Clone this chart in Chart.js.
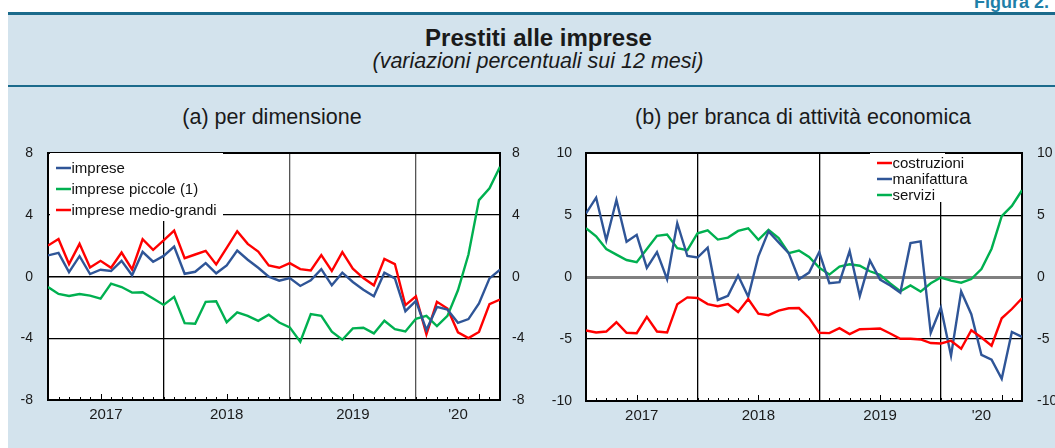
<!DOCTYPE html>
<html>
<head>
<meta charset="utf-8">
<script src="https://cdn.jsdelivr.net/npm/chart.js@4.4.0/dist/chart.umd.min.js"></script>
<style>
  html, body { margin: 0; padding: 0; background: #fff; }
  body { width: 1055px; height: 448px; position: relative; overflow: hidden;
         font-family: "Liberation Sans", Arial, sans-serif; color: #1a1a1a; }
  #fig { position: absolute; left: 974px; top: -7px; line-height: 18px; font-size: 18px;
         font-weight: bold; color: #1f7fa8; white-space: nowrap; }
  #panel { position: absolute; left: 8px; top: 12px; width: 1047px; height: 436px;
           background: #d3e3ed; border-top: 3px solid #1b6b8c; }
  #rule { position: absolute; left: 8px; top: 85px; width: 1047px; height: 2px; background: #1b6b8c; }
  .t { position: absolute; text-align: center; white-space: nowrap; }
  #title { left: 0; width: 1077px; top: 25px; font-size: 24px; line-height: 26px; font-weight: bold; }
  #sub { left: 0; width: 1076px; top: 49px; font-size: 21.5px; line-height: 24px; font-style: italic; }
  #ta { left: 72px; width: 400px; top: 105px; font-size: 21.5px; line-height: 24px; }
  #tb { left: 603px; width: 400px; top: 105px; font-size: 21.5px; line-height: 24px; }
  canvas { position: absolute; }
  #c1 { left: 0; top: 130px; }
  #c2 { left: 530px; top: 130px; }
</style>
</head>
<body>
<div id="fig">Figura 2.</div>
<div id="panel"></div>
<div id="rule"></div>
<div class="t" id="title">Prestiti alle imprese</div>
<div class="t" id="sub">(variazioni percentuali sui 12 mesi)</div>
<div class="t" id="ta">(a) per dimensione</div>
<div class="t" id="tb">(b) per branca di attività economica</div>
<canvas id="c1" width="530" height="318"></canvas>
<canvas id="c2" width="525" height="318"></canvas>
<script>
// monthly observations, gen 2017 - ago 2020
const monthNames = ['gen','feb','mar','apr','mag','giu','lug','ago','set','ott','nov','dic'];
const months = [];
for (let y = 2017; y <= 2020; y++) {
  for (let m = 0; m < 12; m++) {
    if (y === 2020 && m > 7) break;
    months.push(monthNames[m] + ' ' + y);
  }
}

const yearLines = [11, 23, 35];
const yearLabels = ['2017', '2018', '2019', "'20"];
const yearLabelPos = [5.5, 17, 29, 39];

// (a) per dimensione
const imprese = [1.38,1.55,0.30,1.33,0.17,0.45,0.37,1.03,0.09,1.61,0.97,1.35,
  1.96,0.19,0.32,0.88,0.22,0.73,1.70,1.10,0.58,0.00,-0.26,-0.09,
  -0.60,-0.24,0.49,-0.56,0.26,-0.34,-0.84,-1.27,0.26,-0.11,-2.24,-1.57,
  -3.46,-1.96,-2.13,-2.99,-2.75,-1.74,-0.11,0.45];
const impresePiccole = [-0.67,-1.12,-1.25,-1.12,-1.23,-1.42,-0.45,-0.67,-1.03,-1.01,-1.42,-1.83,
  -1.31,-3.01,-3.05,-1.63,-1.59,-2.95,-2.32,-2.54,-2.86,-2.47,-2.97,-3.29,
  -4.22,-2.43,-2.54,-3.57,-4.09,-3.35,-3.31,-3.68,-2.86,-3.40,-3.55,-2.73,
  -2.54,-3.20,-2.54,-0.88,1.44,4.97,5.74,7.14];
const medioGrandi = [2.02,2.45,0.82,2.13,0.60,1.03,0.58,1.57,0.47,2.43,1.74,2.35,
  2.99,1.20,1.44,1.68,0.80,1.87,2.95,2.13,1.63,0.73,0.58,0.88,
  0.49,0.41,1.40,0.37,1.59,0.52,-0.09,-0.56,1.16,0.82,-1.85,-1.27,
  -3.74,-1.63,-2.06,-3.61,-3.98,-3.59,-1.78,-1.48];

// (b) per branca di attività economica
const costruzioni = [-4.30,-4.47,-4.39,-3.64,-4.49,-4.52,-3.21,-4.39,-4.47,-2.19,-1.63,-1.68,
  -2.17,-2.35,-2.17,-2.81,-1.76,-2.94,-3.07,-2.70,-2.51,-2.49,-3.29,-4.49,
  -4.52,-4.12,-4.60,-4.20,-4.17,-4.14,-4.55,-4.97,-4.97,-5.03,-5.32,-5.35,
  -5.13,-5.78,-4.28,-4.87,-5.53,-3.32,-2.57,-1.71];
const manifattura = [5.15,6.42,2.99,6.23,2.86,3.42,0.75,2.02,-0.16,4.36,1.71,1.59,
  2.38,-1.84,-1.50,0.14,-1.58,1.69,3.70,2.81,1.93,-0.16,0.37,2.03,
  -0.48,-0.40,2.11,-1.52,1.36,-0.19,-0.67,-1.26,2.75,2.89,-4.49,-2.46,
  -6.34,-1.15,-2.99,-6.28,-6.66,-8.20,-4.42,-4.82];
const servizi = [3.95,3.30,2.27,1.82,1.39,1.21,2.27,3.34,3.44,2.35,2.18,3.55,
  3.79,3.04,3.20,3.74,3.95,3.02,3.82,3.16,1.95,2.15,1.63,0.77,
  0.21,0.85,1.04,0.93,0.48,0.19,-0.50,-1.13,-0.66,-1.16,-0.49,-0.03,
  -0.28,-0.44,-0.15,0.65,2.30,4.93,5.76,7.03];

const BLUE = '#2f5597', GREEN = '#00b050', RED = '#ff0000';
const FONT = '"Liberation Sans", Arial, sans-serif';
Chart.defaults.font.family = FONT;
Chart.defaults.color = '#1a1a1a';

function pts(vals) {
  return vals.map((v, i) => ({ x: i, y: v }));
}

function line(label, vals, color) {
  return { label: label, data: pts(vals), borderColor: color, backgroundColor: color,
           borderWidth: 2.4, pointRadius: 0, tension: 0, fill: false };
}

// white plot area, month tick marks, legend box on top of the grid
const decoPlugin = {
  id: 'deco',
  beforeDraw(chart) {
    const a = chart.chartArea, c = chart.ctx;
    c.save();
    c.fillStyle = '#fff';
    c.fillRect(a.left, a.top, a.right - a.left, a.bottom - a.top);
    c.restore();
  },
  beforeDatasetsDraw(chart, args, opts) {
    const c = chart.ctx, a = chart.chartArea, xs = chart.scales.x;
    c.save();
    c.strokeStyle = '#000';
    c.lineWidth = 1;
    months.forEach((m, i) => {
      const x = Math.round(xs.getPixelForValue(i)) + 0.5;
      const len = m.startsWith('giu') ? 6 : 3;
      c.beginPath();
      c.moveTo(x, a.bottom);
      c.lineTo(x, a.bottom - len);
      c.stroke();
    });
    const L = opts.legend;
    c.fillStyle = '#fff';
    c.fillRect(L.box[0], L.box[1], L.box[2], L.box[3]);
    c.font = '15px ' + FONT;
    c.textBaseline = 'middle';
    c.textAlign = 'left';
    chart.data.datasets.forEach((ds, k) => {
      const y = L.y + k * L.step;
      c.strokeStyle = ds.borderColor;
      c.lineWidth = 2.5;
      c.beginPath();
      c.moveTo(L.x, y);
      c.lineTo(L.x + 15, y);
      c.stroke();
      c.fillStyle = '#111';
      c.fillText(ds.label, L.x + 15.5, y + 1);
    });
    c.restore();
  }
};

function makeChart(id, cfg) {
  const yGrid = {
    drawTicks: false,
    color: (ctx) => (ctx.tick.value === 0 ? cfg.zeroColor : '#000'),
    lineWidth: (ctx) => {
      const v = ctx.tick.value;
      if (v === cfg.min || v === cfg.max) return 2;
      return v === 0 ? cfg.zeroWidth : 1.3;
    }
  };
  return new Chart(document.getElementById(id), {
    type: 'line',
    data: { datasets: cfg.datasets },
    plugins: [decoPlugin],
    options: {
      responsive: false,
      animation: false,
      events: [],
      layout: { padding: { top: 22, left: 0, right: 0, bottom: 0 } },
      plugins: {
        legend: { display: false },
        tooltip: { enabled: false },
        deco: { legend: cfg.legend }
      },
      scales: {
        x: {
          type: 'linear', min: 0, max: months.length - 1,
          afterBuildTicks(s) {
            s.ticks = yearLines.concat(yearLabelPos).map((v) => ({ value: v }));
          },
          afterFit(s) { s.height = cfg.xHeight; },
          grid: {
            drawTicks: false,
            color: (ctx) => {
              const k = yearLines.indexOf(ctx.tick.value);
              return k < 0 ? 'rgba(0,0,0,0)' : cfg.yearColors[k];
            },
            lineWidth: 1.3
          },
          border: { display: true, color: '#000', width: 2 },
          ticks: {
            autoSkip: false, maxRotation: 0, padding: 6,
            font: { size: 15 }, color: '#1a1a1a',
            callback: (v) => {
              const k = yearLabelPos.indexOf(v);
              return k < 0 ? '' : yearLabels[k];
            }
          }
        },
        y: {
          position: 'left', min: cfg.min, max: cfg.max,
          afterFit(s) { s.width = cfg.leftW; },
          grid: yGrid,
          border: { display: true, color: '#000', width: 2 },
          ticks: { stepSize: cfg.step, padding: cfg.leftPad, font: { size: 14 }, color: '#1a1a1a' }
        },
        y2: {
          position: 'right', min: cfg.min, max: cfg.max,
          afterFit(s) { s.width = cfg.rightW; },
          grid: { display: false, drawTicks: false },
          border: { display: true, color: '#000', width: 2 },
          ticks: { stepSize: cfg.step, padding: cfg.rightPad, font: { size: 14 }, color: '#1a1a1a' }
        }
      }
    }
  });
}

makeChart('c1', {
  datasets: [
    line('imprese', imprese, BLUE),
    line('imprese piccole (1)', impresePiccole, GREEN),
    line('imprese medio-grandi', medioGrandi, RED)
  ],
  min: -8, max: 8, step: 4,
  zeroColor: '#000', zeroWidth: 1.5,
  yearColors: ['#000', '#555', '#555'],
  leftW: 48, rightW: 30, xHeight: 48, leftPad: 15, rightPad: 12,
  legend: { box: [50, 23, 173, 68], x: 56, y: 38, step: 21 }
});

makeChart('c2', {
  datasets: [
    line('costruzioni', costruzioni, RED),
    line('manifattura', manifattura, BLUE),
    line('servizi', servizi, GREEN)
  ],
  min: -10, max: 10, step: 5,
  zeroColor: '#808080', zeroWidth: 3,
  yearColors: ['#000', '#000', '#000'],
  leftW: 56, rightW: 33, xHeight: 47, leftPad: 14, rightPad: 15,
  legend: { box: [340, 23, 75, 49], x: 347, y: 33, step: 16 }
});
</script>
</body>
</html>
